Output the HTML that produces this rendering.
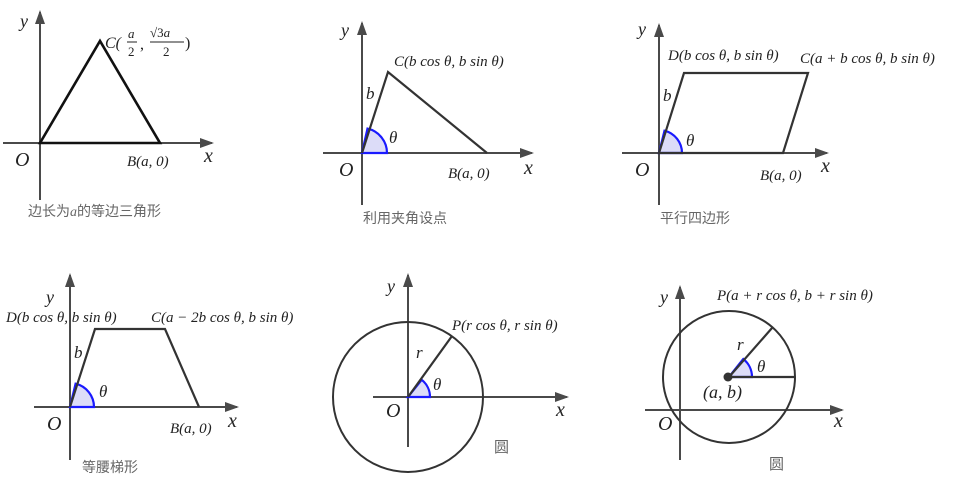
<!DOCTYPE html>
<html><head><meta charset="utf-8"><style>
html,body{margin:0;padding:0;background:#fff}
svg{display:block}
text{font-family:"Liberation Serif","Noto Serif CJK SC",serif;fill:#222}
.i{font-style:italic}
.cap{font-family:"Liberation Sans","Noto Sans CJK SC",sans-serif;fill:#666;font-size:14px}
.ax{stroke:#4a4a4a;stroke-width:2;fill:none}
.sh{stroke:#111;stroke-width:2.6;fill:none}
.sh2{stroke:#333;stroke-width:2.2;fill:none}
.arc{stroke:#1a1aff;stroke-width:2.2;fill:#dcdcf8}
</style></head><body>
<svg width="958" height="484" viewBox="0 0 958 484" xmlns="http://www.w3.org/2000/svg">
<defs><marker id="ar" markerWidth="14" markerHeight="10" refX="12" refY="5" orient="auto" markerUnits="userSpaceOnUse"><path d="M0,0 L14,5 L0,10 z" fill="#4a4a4a"/></marker></defs>

<!-- Panel 1 -->
<line class="ax" x1="40" y1="200" x2="40" y2="12" marker-end="url(#ar)"/>
<line class="ax" x1="3" y1="143" x2="212" y2="143" marker-end="url(#ar)"/>
<polygon class="sh" points="40,143 100,41 160,143"/>
<text class="i" x="20" y="27" font-size="18">y</text>
<text class="i" x="105" y="48" font-size="16">C(</text>
<text class="i" x="128" y="38" font-size="13">a</text><line x1="127" y1="42" x2="137" y2="42" stroke="#222"/><text x="128" y="56" font-size="13">2</text>
<text x="140" y="49" font-size="16">,</text>
<text x="150" y="37" font-size="13">√3<tspan class="i">a</tspan></text><line x1="150" y1="42" x2="184" y2="42" stroke="#222"/><text x="163" y="56" font-size="13">2</text>
<text x="185" y="48" font-size="16">)</text>
<text class="i" x="15" y="166" font-size="20">O</text>
<text class="i" x="127" y="166" font-size="15">B(a, 0)</text>
<text class="i" x="204" y="162" font-size="20">x</text>
<text class="cap" x="28" y="216">边长为<tspan class="i" style="font-family:'Liberation Serif'">a</tspan>的等边三角形</text>

<!-- Panel 2 -->
<line class="ax" x1="362" y1="205" x2="362" y2="23" marker-end="url(#ar)"/>
<line class="ax" x1="323" y1="153" x2="532" y2="153" marker-end="url(#ar)"/>
<path class="arc" d="M362,153 L387,153 A25,25 0 0 0 367.5,128.6 Z"/>
<polyline class="sh2" points="362,153 388,72 487,153"/>
<text class="i" x="341" y="36" font-size="18">y</text>
<text class="i" x="394" y="66" font-size="15">C(b cos θ, b sin θ)</text>
<text class="i" x="366" y="99" font-size="17">b</text>
<text class="i" x="389" y="143" font-size="17">θ</text>
<text class="i" x="339" y="176" font-size="20">O</text>
<text class="i" x="448" y="178" font-size="15">B(a, 0)</text>
<text class="i" x="524" y="174" font-size="20">x</text>
<text class="cap" x="363" y="223">利用夹角设点</text>

<!-- Panel 3 -->
<line class="ax" x1="659" y1="205" x2="659" y2="25" marker-end="url(#ar)"/>
<line class="ax" x1="622" y1="153" x2="827" y2="153" marker-end="url(#ar)"/>
<path class="arc" d="M659,153 L682,153 A23,23 0 0 0 664.5,130.7 Z"/>
<polygon class="sh2" points="659,153 684,73 808,73 783,153"/>
<text class="i" x="638" y="35" font-size="18">y</text>
<text class="i" x="668" y="60" font-size="15">D(b cos θ, b sin θ)</text>
<text class="i" x="800" y="63" font-size="15">C(a + b cos θ, b sin θ)</text>
<text class="i" x="663" y="101" font-size="17">b</text>
<text class="i" x="686" y="146" font-size="17">θ</text>
<text class="i" x="635" y="176" font-size="20">O</text>
<text class="i" x="760" y="180" font-size="15">B(a, 0)</text>
<text class="i" x="821" y="172" font-size="20">x</text>
<text class="cap" x="660" y="223">平行四边形</text>

<!-- Panel 4 -->
<line class="ax" x1="70" y1="460" x2="70" y2="275" marker-end="url(#ar)"/>
<line class="ax" x1="34" y1="407" x2="237" y2="407" marker-end="url(#ar)"/>
<path class="arc" d="M70,407 L94,407 A24,24 0 0 0 75.6,383.7 Z"/>
<polyline class="sh2" points="70,407 95,329 165,329 199,407"/>
<text class="i" x="46" y="303" font-size="18">y</text>
<text class="i" x="6" y="322" font-size="15">D(b cos θ, b sin θ)</text>
<text class="i" x="151" y="322" font-size="15">C(a − 2b cos θ, b sin θ)</text>
<text class="i" x="74" y="358" font-size="17">b</text>
<text class="i" x="99" y="397" font-size="17">θ</text>
<text class="i" x="47" y="430" font-size="20">O</text>
<text class="i" x="170" y="433" font-size="15">B(a, 0)</text>
<text class="i" x="228" y="427" font-size="20">x</text>
<text class="cap" x="82" y="472">等腰梯形</text>

<!-- Panel 5 -->
<line class="ax" x1="408" y1="447" x2="408" y2="275" marker-end="url(#ar)"/>
<line class="ax" x1="373" y1="397" x2="567" y2="397" marker-end="url(#ar)"/>
<circle cx="408" cy="397" r="75" fill="none" stroke="#333" stroke-width="2"/>
<path class="arc" d="M408,397 L430,397 A22,22 0 0 0 421.7,379.8 Z"/>
<line class="sh2" x1="408" y1="397" x2="452" y2="336"/>
<text class="i" x="387" y="292" font-size="18">y</text>
<text class="i" x="452" y="330" font-size="15">P(r cos θ, r sin θ)</text>
<text class="i" x="416" y="358" font-size="17">r</text>
<text class="i" x="433" y="390" font-size="17">θ</text>
<text class="i" x="386" y="417" font-size="20">O</text>
<text class="i" x="556" y="416" font-size="20">x</text>
<text class="cap" x="494" y="452" style="font-size:15px">圆</text>

<!-- Panel 6 -->
<line class="ax" x1="680" y1="460" x2="680" y2="287" marker-end="url(#ar)"/>
<line class="ax" x1="645" y1="410" x2="842" y2="410" marker-end="url(#ar)"/>
<circle cx="729" cy="377" r="66" fill="none" stroke="#333" stroke-width="2"/>
<path class="arc" d="M729,377 L752,377 A23,23 0 0 0 743.3,359 Z"/>
<line x1="729" y1="377" x2="743.3" y2="359" stroke="#1a1aff" stroke-width="2.2"/>
<line class="sh2" x1="729" y1="377" x2="772" y2="328"/>
<line class="sh2" x1="729" y1="377" x2="795" y2="377"/>
<circle cx="728" cy="377" r="4.5" fill="#333"/>
<text class="i" x="660" y="303" font-size="18">y</text>
<text class="i" x="717" y="300" font-size="15">P(a + r cos θ, b + r sin θ)</text>
<text class="i" x="737" y="350" font-size="17">r</text>
<text class="i" x="757" y="372" font-size="17">θ</text>
<text class="i" x="703" y="398" font-size="18">(a, b)</text>
<text class="i" x="658" y="430" font-size="20">O</text>
<text class="i" x="834" y="427" font-size="20">x</text>
<text class="cap" x="769" y="469" style="font-size:15px">圆</text>
</svg>
</body></html>
